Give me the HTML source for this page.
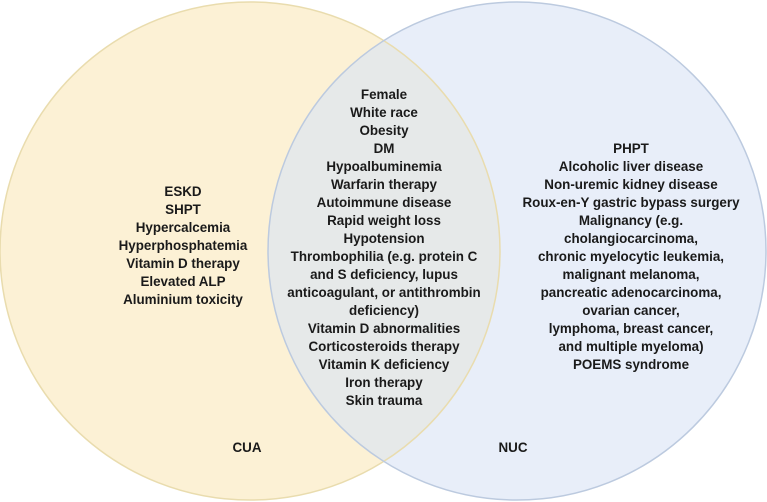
<!DOCTYPE html>
<html><head><meta charset="utf-8"><style>
html,body{margin:0;padding:0;background:#fff;}
svg{display:block}
text{font-family:"Liberation Sans",Arial,sans-serif;font-weight:bold;font-size:13.4px;fill:#1a1a1a;text-anchor:middle}
</style></head><body>
<svg width="767" height="502" viewBox="0 0 767 502">
<defs>
<clipPath id="cl"><ellipse cx="250" cy="251" rx="250" ry="249"/></clipPath>
</defs>
<rect width="767" height="502" fill="#fff"/>
<ellipse cx="250" cy="251" rx="250" ry="249" fill="#fcf1d5"/>
<ellipse cx="517" cy="251" rx="249" ry="249" fill="#e8eef9"/>
<ellipse cx="517" cy="251" rx="249" ry="249" fill="#e6e9e9" clip-path="url(#cl)"/>
<ellipse cx="250" cy="251" rx="250" ry="249" fill="none" stroke="#e9dcae" stroke-width="1.5"/>
<ellipse cx="517" cy="251" rx="249" ry="249" fill="none" stroke="#bccadf" stroke-width="1.5"/>
<g>
<text x="183" y="196">ESKD</text>
<text x="183" y="214">SHPT</text>
<text x="183" y="232">Hypercalcemia</text>
<text x="183" y="250">Hyperphosphatemia</text>
<text x="183" y="268">Vitamin D therapy</text>
<text x="183" y="286">Elevated ALP</text>
<text x="183" y="304">Aluminium toxicity</text>
</g>
<g>
<text x="384" y="99">Female</text>
<text x="384" y="117">White race</text>
<text x="384" y="135">Obesity</text>
<text x="384" y="153">DM</text>
<text x="384" y="171">Hypoalbuminemia</text>
<text x="384" y="189">Warfarin therapy</text>
<text x="384" y="207">Autoimmune disease</text>
<text x="384" y="225">Rapid weight loss</text>
<text x="384" y="243">Hypotension</text>
<text x="384" y="261">Thrombophilia (e.g. protein C</text>
<text x="384" y="279">and S deficiency, lupus</text>
<text x="384" y="297">anticoagulant, or antithrombin</text>
<text x="384" y="315">deficiency)</text>
<text x="384" y="333">Vitamin D abnormalities</text>
<text x="384" y="351">Corticosteroids therapy</text>
<text x="384" y="369">Vitamin K deficiency</text>
<text x="384" y="387">Iron therapy</text>
<text x="384" y="405">Skin trauma</text>
</g>
<g>
<text x="631" y="153">PHPT</text>
<text x="631" y="171">Alcoholic liver disease</text>
<text x="631" y="189">Non-uremic kidney disease</text>
<text x="631" y="207">Roux-en-Y gastric bypass surgery</text>
<text x="631" y="225">Malignancy (e.g.</text>
<text x="631" y="243">cholangiocarcinoma,</text>
<text x="631" y="261">chronic myelocytic leukemia,</text>
<text x="631" y="279">malignant melanoma,</text>
<text x="631" y="297">pancreatic adenocarcinoma,</text>
<text x="631" y="315">ovarian cancer,</text>
<text x="631" y="333">lymphoma, breast cancer,</text>
<text x="631" y="351">and multiple myeloma)</text>
<text x="631" y="369">POEMS syndrome</text>
</g>
<text x="247" y="452">CUA</text>
<text x="513" y="452">NUC</text>
</svg>
</body></html>
